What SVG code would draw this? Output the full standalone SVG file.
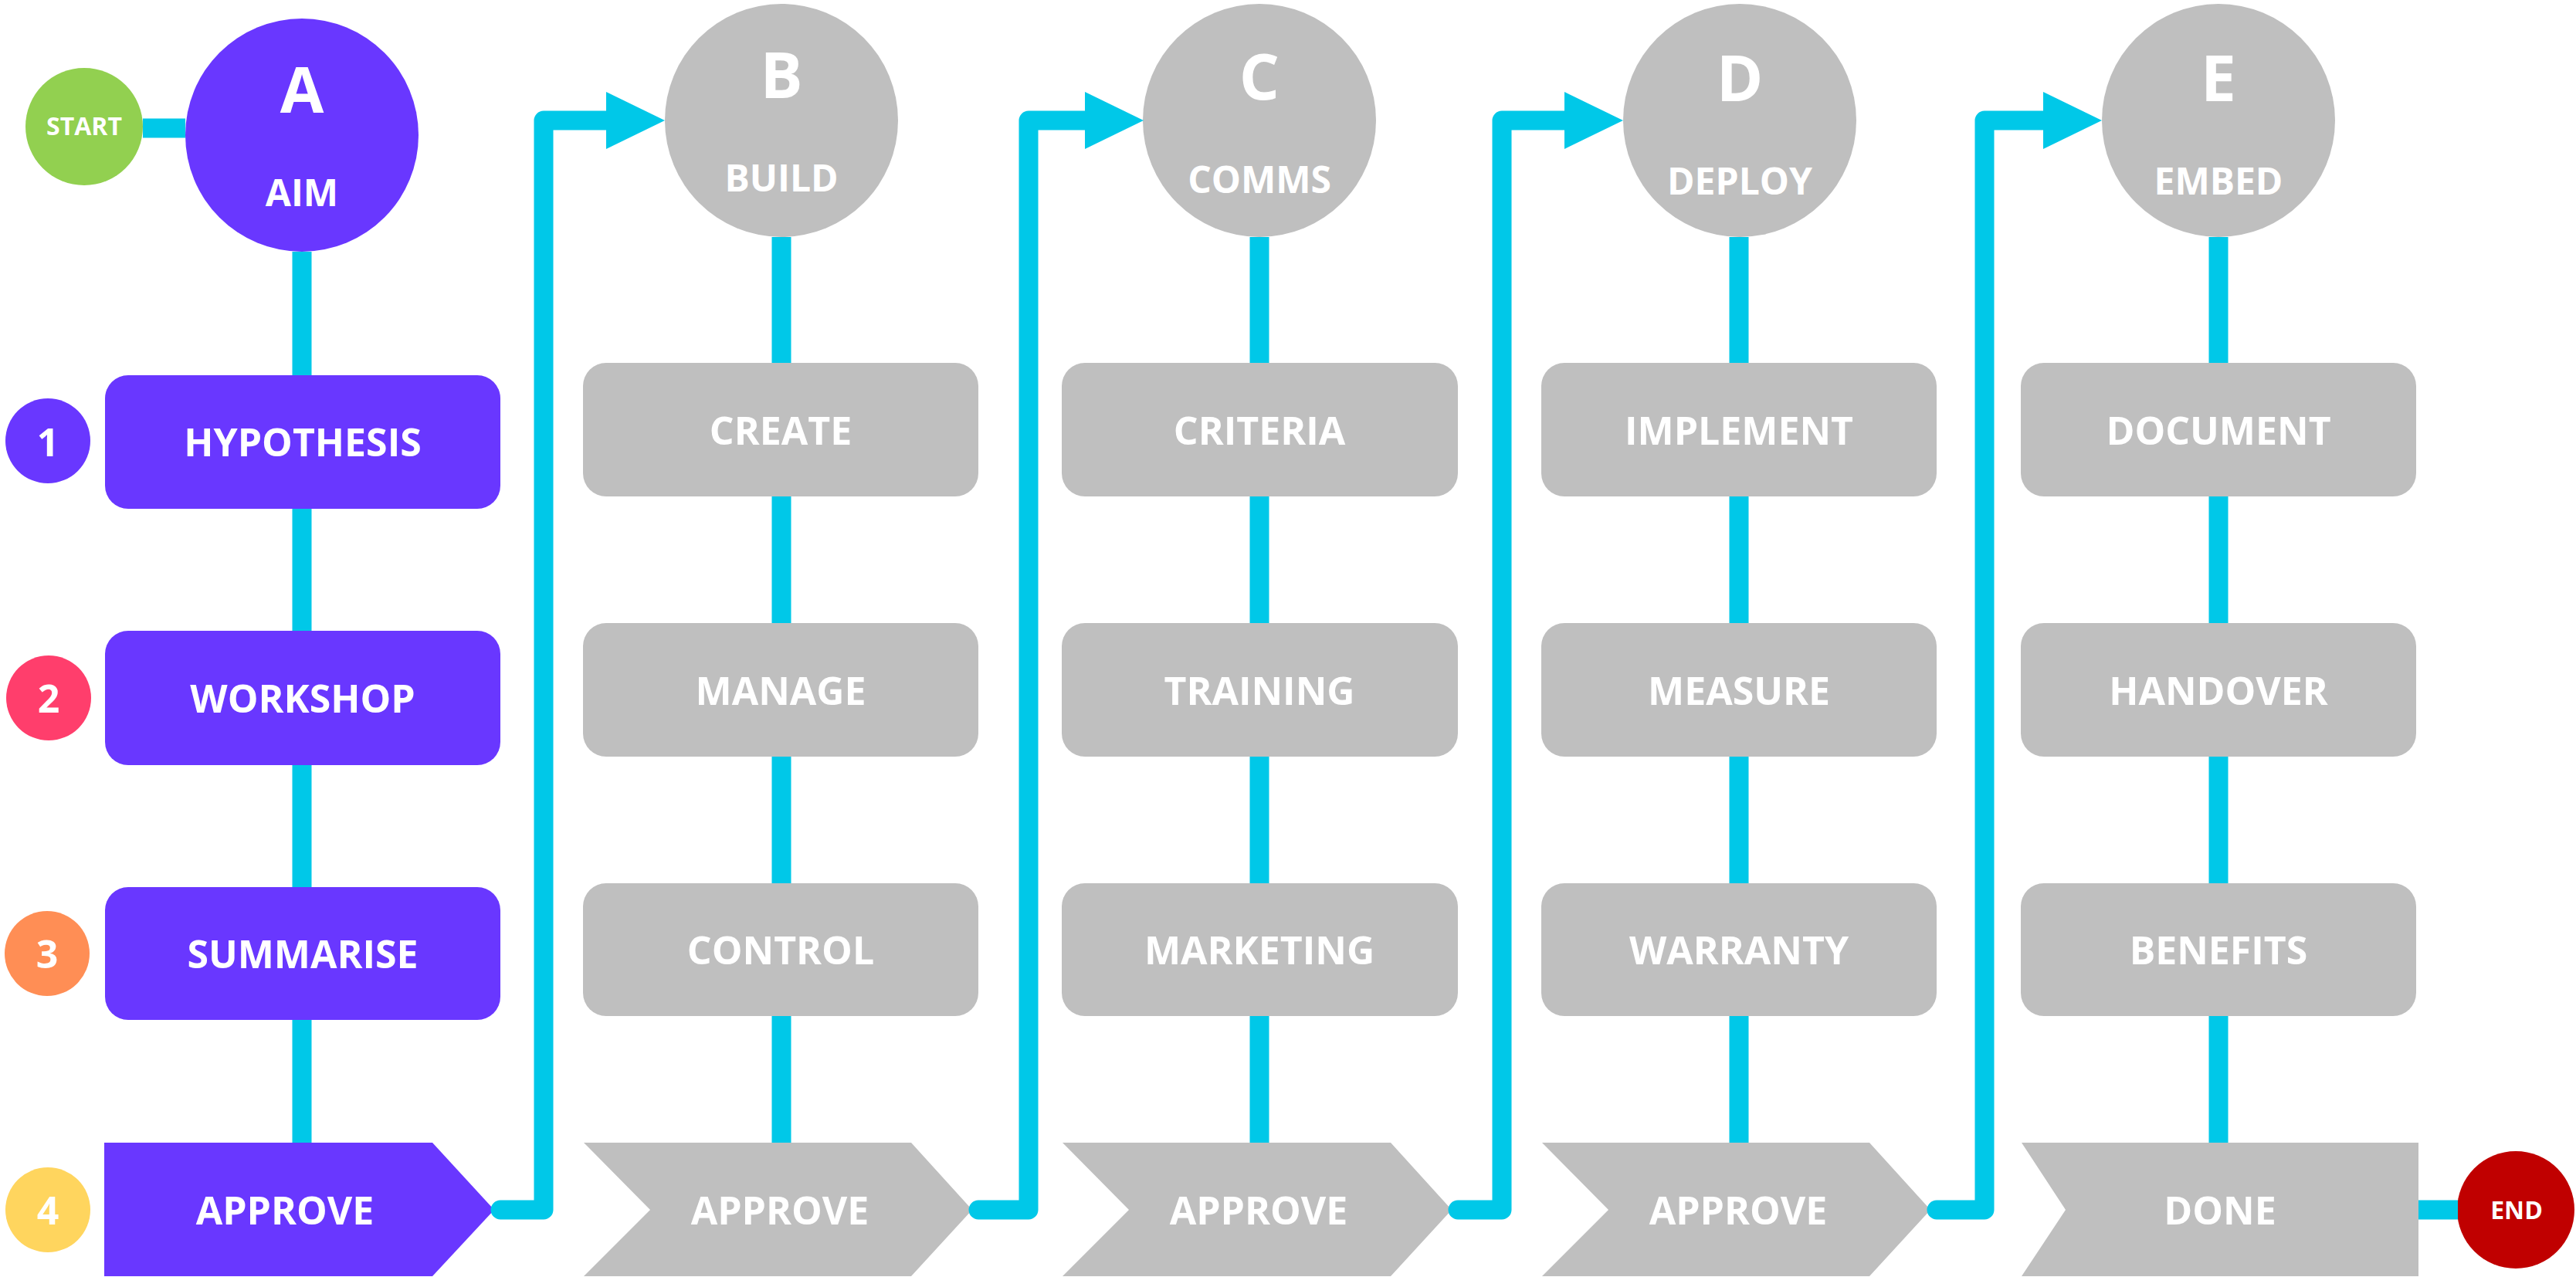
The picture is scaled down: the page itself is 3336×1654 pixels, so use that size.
<svg xmlns="http://www.w3.org/2000/svg" width="3336" height="1654" viewBox="0 0 3336 1654">
<defs>
<style>
.purple{fill:#6937FF}
.gray{fill:#BFBFBF}
.t{font-family:"Open Sans","Noto Sans","Liberation Sans",sans-serif;font-weight:bold;fill:#FFFFFF;text-anchor:middle}
.lbl{font-size:50px}
.big{font-size:82px}
.sub{font-size:48px}
.small{font-size:32px}
.line{fill:none;stroke:#00C8E8;stroke-width:25}
.loop{fill:none;stroke:#00C8E8;stroke-width:25;stroke-linejoin:round;stroke-linecap:round}
.arrow{fill:#00C8E8}
</style>
</defs>
<rect width="3336" height="1654" fill="#FFFFFF"/>

<!-- Start / End -->
<g id="start"><circle cx="109" cy="164" r="76" fill="#92D050"/><text class="t small" x="109" y="175">START</text></g>
<g id="end"><circle cx="3258" cy="1567" r="76" fill="#C00000"/><text class="t small" x="3259" y="1579">END</text></g>

<!-- Number markers -->
<g id="num1"><circle cx="62" cy="571" r="55" fill="#6937FF"/><text class="t lbl" x="62" y="591">1</text></g>
<g id="num2"><circle cx="63" cy="904" r="55" fill="#FF3E6C"/><text class="t lbl" x="63" y="923">2</text></g>
<g id="num3"><circle cx="61" cy="1235" r="55" fill="#FF8E55"/><text class="t lbl" x="61" y="1254">3</text></g>
<g id="num4"><circle cx="62" cy="1567" r="55" fill="#FFD55E"/><text class="t lbl" x="62" y="1586">4</text></g>

<!-- Column A -->
<g id="A"><circle class="purple" cx="391" cy="175" r="151"/><text class="t big" x="391" y="146">A</text><text class="t sub" x="391" y="267">AIM</text></g>
<g id="A1"><rect class="purple" x="136" y="486" width="512" height="173" rx="30"/><text class="t lbl" x="392" y="591">HYPOTHESIS</text></g>
<g id="A2"><rect class="purple" x="136" y="817" width="512" height="174" rx="30"/><text class="t lbl" x="392" y="923">WORKSHOP</text></g>
<g id="A3"><rect class="purple" x="136" y="1149" width="512" height="172" rx="30"/><text class="t lbl" x="392" y="1254">SUMMARISE</text></g>
<g id="A4"><polygon class="purple" points="135,1480 560,1480 640,1567 560,1653 135,1653"/><text class="t lbl" x="369" y="1586">APPROVE</text></g>

<!-- Column B -->
<g id="B"><circle class="gray" cx="1012" cy="156" r="151"/><text class="t big" x="1012" y="127">B</text><text class="t sub" x="1012" y="248">BUILD</text></g>
<g id="B1"><rect class="gray" x="755" y="470" width="512" height="173" rx="30"/><text class="t lbl" x="1011" y="576">CREATE</text></g>
<g id="B2"><rect class="gray" x="755" y="807" width="512" height="173" rx="30"/><text class="t lbl" x="1011" y="913">MANAGE</text></g>
<g id="B3"><rect class="gray" x="755" y="1144" width="512" height="172" rx="30"/><text class="t lbl" x="1011" y="1249">CONTROL</text></g>
<g id="B4"><polygon class="gray" points="756,1480 1180,1480 1259,1567 1180,1653 756,1653 842,1567"/><text class="t lbl" x="1010" y="1586">APPROVE</text></g>

<!-- Column C -->
<g id="C"><circle class="gray" cx="1631" cy="156" r="151"/><text class="t big" x="1631" y="129">C</text><text class="t sub" x="1631" y="250">COMMS</text></g>
<g id="C1"><rect class="gray" x="1375" y="470" width="513" height="173" rx="30"/><text class="t lbl" x="1631" y="576">CRITERIA</text></g>
<g id="C2"><rect class="gray" x="1375" y="807" width="513" height="173" rx="30"/><text class="t lbl" x="1631" y="913">TRAINING</text></g>
<g id="C3"><rect class="gray" x="1375" y="1144" width="513" height="172" rx="30"/><text class="t lbl" x="1631" y="1249">MARKETING</text></g>
<g id="C4"><polygon class="gray" points="1376,1480 1801,1480 1880,1567 1801,1653 1376,1653 1462,1567"/><text class="t lbl" x="1630" y="1586">APPROVE</text></g>

<!-- Column D -->
<g id="D"><circle class="gray" cx="2253" cy="156" r="151"/><text class="t big" x="2253" y="131">D</text><text class="t sub" x="2253" y="252">DEPLOY</text></g>
<g id="D1"><rect class="gray" x="1996" y="470" width="512" height="173" rx="30"/><text class="t lbl" x="2252" y="576">IMPLEMENT</text></g>
<g id="D2"><rect class="gray" x="1996" y="807" width="512" height="173" rx="30"/><text class="t lbl" x="2252" y="913">MEASURE</text></g>
<g id="D3"><rect class="gray" x="1996" y="1144" width="512" height="172" rx="30"/><text class="t lbl" x="2252" y="1249">WARRANTY</text></g>
<g id="D4"><polygon class="gray" points="1997,1480 2421,1480 2500,1567 2421,1653 1997,1653 2083,1567"/><text class="t lbl" x="2251" y="1586">APPROVE</text></g>

<!-- Column E -->
<g id="E"><circle class="gray" cx="2873" cy="156" r="151"/><text class="t big" x="2873" y="131">E</text><text class="t sub" x="2873" y="252">EMBED</text></g>
<g id="E1"><rect class="gray" x="2617" y="470" width="512" height="173" rx="30"/><text class="t lbl" x="2873" y="576">DOCUMENT</text></g>
<g id="E2"><rect class="gray" x="2617" y="807" width="512" height="173" rx="30"/><text class="t lbl" x="2873" y="913">HANDOVER</text></g>
<g id="E3"><rect class="gray" x="2617" y="1144" width="512" height="172" rx="30"/><text class="t lbl" x="2873" y="1249">BENEFITS</text></g>
<g id="E4"><polygon class="gray" points="2618,1480 3132,1480 3132,1653 2618,1653 2675,1567"/><text class="t lbl" x="2875" y="1586">DONE</text></g>

<!-- Connectors -->
<g id="connectors">
<line class="line" x1="185" y1="166" x2="240" y2="166"/>
<line class="line" x1="3132" y1="1567" x2="3183" y2="1567"/>
<path class="line" d="M391 326V486M391 659V817M391 991V1149M391 1321V1480"/>
<path class="line" d="M1012 307V470M1012 643V807M1012 980V1144M1012 1316V1480"/>
<path class="line" d="M1631 307V470M1631 643V807M1631 980V1144M1631 1316V1480"/>
<path class="line" d="M2252 307V470M2252 643V807M2252 980V1144M2252 1316V1480"/>
<path class="line" d="M2873 307V470M2873 643V807M2873 980V1144M2873 1316V1480"/>
<path class="loop" d="M648 1567H704V156H790"/>
<polygon class="arrow" points="785,119 861,156 785,193"/>
<path class="loop" d="M1267 1567H1332V156H1410"/>
<polygon class="arrow" points="1405,119 1481,156 1405,193"/>
<path class="loop" d="M1888 1567H1945V156H2031"/>
<polygon class="arrow" points="2026,119 2102,156 2026,193"/>
<path class="loop" d="M2508 1567H2570V156H2651"/>
<polygon class="arrow" points="2646,119 2722,156 2646,193"/>
</g>
</svg>
